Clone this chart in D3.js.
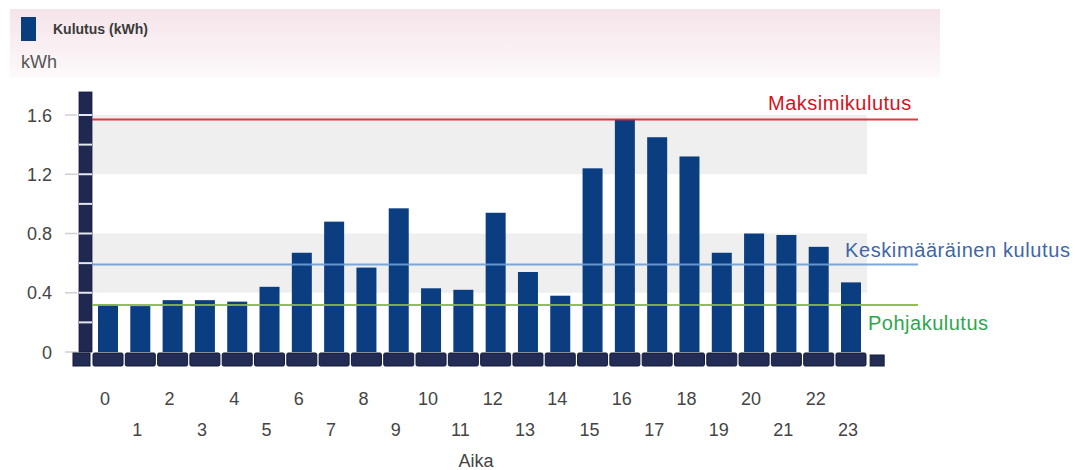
<!DOCTYPE html>
<html><head><meta charset="utf-8">
<script src="https://cdn.jsdelivr.net/npm/d3@7"></script>
<style>body{margin:0;background:#fff}svg{display:block;font-family:"Liberation Sans",Arial,sans-serif}</style>
</head><body><svg id="c" width="1075" height="470"></svg>
<script>
const hours = d3.range(0, 24);
const consumption = [0.32,0.31,0.35,0.35,0.34,0.44,0.67,0.88,0.57,0.97,0.43,0.42,0.94,0.54,0.38,1.24,1.57,1.45,1.32,0.67,0.80,0.79,0.71,0.47];
const yTicks = [0, 0.4, 0.8, 1.2, 1.6];
const refLines = [
  {name:"Maksimikulutus", value:1.57, line:"#d9262c", text:"#d4121e"},
  {name:"Keskimääräinen kulutus", value:0.59, line:"#6f9fd6", text:"#4066a8"},
  {name:"Pohjakulutus", value:0.318, line:"#86b84a", text:"#2ea64c"}
];
const bands = [[1.2,1.6],[0.4,0.8]];
const legendLabel = "Kulutus (kWh)";
const yTitle = "kWh";
const xTitle = "Aika";

const svg = d3.select("#c");
const defs = svg.append("defs");
const g1 = defs.append("linearGradient").attr("id","pk").attr("x1",0).attr("y1",0).attr("x2",0).attr("y2",1);
g1.append("stop").attr("offset","0%").attr("stop-color","#f5e4ea");
g1.append("stop").attr("offset","100%").attr("stop-color","#fdf9fa");

const y = d3.scaleLinear().domain([0,1.6]).range([352,115]);
const x = d3.scaleBand().domain(hours).range([91.85,867.15]);
const step = x.step(), bw = 20, baseW = 30;

// legend band
svg.append("rect").attr("x",10).attr("y",9).attr("width",930).attr("height",68).attr("fill","url(#pk)");
svg.append("rect").attr("x",21).attr("y",17).attr("width",15).attr("height",24).attr("fill","#0a3d7e");
svg.append("text").attr("x",53).attr("y",34).attr("font-size",14).attr("font-weight","bold").attr("fill","#3a3a3a").text(legendLabel);
svg.append("text").attr("x",21).attr("y",68).attr("font-size",18).attr("fill","#555").text(yTitle);

// bands
bands.forEach(b=>{
  svg.append("rect").attr("x",92).attr("y",y(b[1])).attr("width",775).attr("height",y(b[0])-y(b[1])).attr("fill","#efefef");
});

// y ticks
yTicks.forEach(t=>{
  svg.append("line").attr("x1",65).attr("x2",77).attr("y1",y(t)).attr("y2",y(t)).attr("stroke","#cfcfcf").attr("stroke-width",1.5);
  svg.append("text").attr("x",52).attr("y",y(t)+6.5).attr("text-anchor","end").attr("font-size",18).attr("fill","#444").text(t===0?"0":d3.format(".1f")(t));
});

// left axis pillar
svg.append("rect").attr("x",79).attr("y",92).attr("width",13).attr("height",y(0)-92).attr("fill","#1f2850").attr("stroke","#141a36").attr("stroke-width",0.8);
d3.range(0.2,1.8,0.2).forEach(v=>{
  svg.append("line").attr("x1",79).attr("x2",92).attr("y1",y(v)).attr("y2",y(v)).attr("stroke","#e6e8f0").attr("stroke-width",2);
});

// bars
svg.selectAll(".bar").data(hours).enter().append("rect")
  .attr("x",d=>x(d)+(step-bw)/2).attr("width",bw)
  .attr("y",d=>y(consumption[d])).attr("height",d=>y(0)-y(consumption[d]))
  .attr("fill","#0b3e80");

// base blocks
svg.selectAll(".base").data(hours).enter().append("rect")
  .attr("x",d=>x(d)+(step-baseW)/2).attr("width",baseW)
  .attr("y",353).attr("height",13).attr("rx",1.5).attr("fill","#222c54").attr("stroke","#131a35").attr("stroke-width",1);
svg.append("rect").attr("x",73).attr("y",353).attr("width",17).attr("height",13).attr("fill","#222c54").attr("stroke","#131a35");
svg.append("rect").attr("x",x(23)+step+3).attr("y",355).attr("width",14).attr("height",11).attr("fill","#222c54").attr("stroke","#131a35");

// reference lines
refLines.forEach(r=>{
  svg.append("line").attr("x1",92).attr("x2",918).attr("y1",y(r.value)).attr("y2",y(r.value)).attr("stroke",r.line).attr("stroke-width",2).attr("opacity",0.9);
});
svg.append("text").attr("x",768).attr("y",110).attr("font-size",20).attr("letter-spacing",0.5).attr("fill",refLines[0].text).text(refLines[0].name);
svg.append("text").attr("x",845).attr("y",257).attr("font-size",20).attr("letter-spacing",0.6).attr("fill",refLines[1].text).text(refLines[1].name);
svg.append("text").attr("x",868).attr("y",330).attr("font-size",20).attr("letter-spacing",0.5).attr("fill",refLines[2].text).text(refLines[2].name);

// x labels
hours.forEach(h=>{
  svg.append("text").attr("x",x(h)+step/2-3).attr("y",h%2===0?405:436).attr("text-anchor","middle").attr("font-size",18).attr("fill","#444").text(h);
});
svg.append("text").attr("x",476).attr("y",467).attr("text-anchor","middle").attr("font-size",18).attr("fill","#444").text(xTitle);
</script></body></html>
